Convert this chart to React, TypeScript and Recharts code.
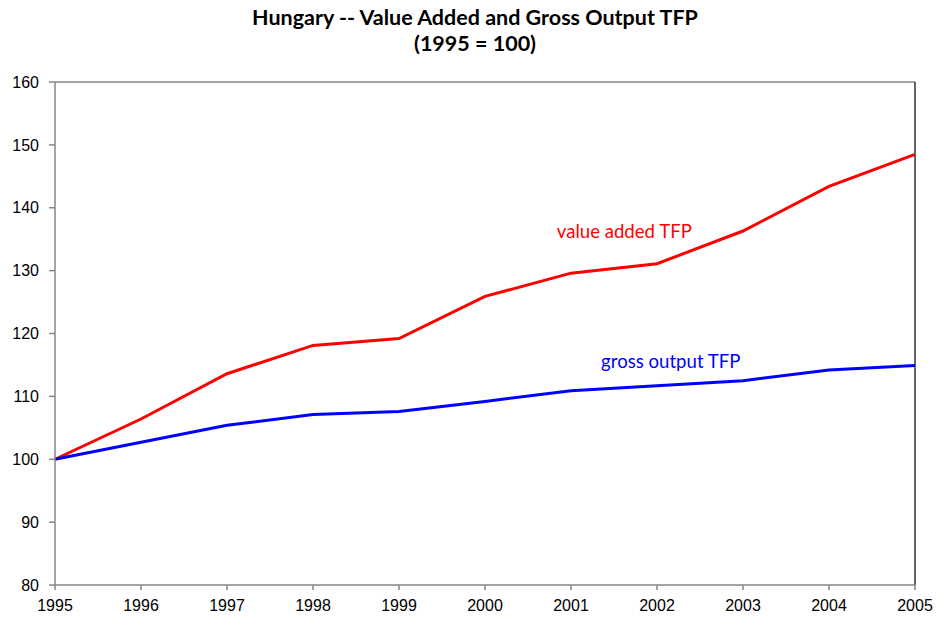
import React from "react";
import { LineChart, Line, XAxis, YAxis, ReferenceLine, ReferenceDot } from "recharts";

const years = [1995, 1996, 1997, 1998, 1999, 2000, 2001, 2002, 2003, 2004, 2005];
const valueAddedTFP = [100, 106.4, 113.6, 118.1, 119.2, 125.9, 129.6, 131.1, 136.3, 143.4, 148.5];
const grossOutputTFP = [100, 102.7, 105.4, 107.1, 107.6, 109.2, 110.9, 111.7, 112.5, 114.2, 114.9];
const yTicks = [80, 90, 100, 110, 120, 130, 140, 150, 160];

const titleLine1 = "Hungary -- Value Added and Gross Output TFP";
const titleLine2 = "(1995 = 100)";
const vaLabel = "value added TFP";
const goLabel = "gross output TFP";

const data = years.map((y, i) => ({ year: y, va: valueAddedTFP[i], go: grossOutputTFP[i] }));

const axisGrey = "#868686";
const tickStyle = { fontFamily: "'Liberation Sans', Arial, sans-serif", fontSize: 16, fill: "#000" };

export default function App() {
  return (
    <div style={{ position: "absolute", left: 0, top: 0, width: 940, height: 619, background: "#fff" }}>
      <svg width={940} height={60} style={{ position: "absolute", left: 0, top: 0 }}>
        <text x={475} y={25} textAnchor="middle" fontFamily="Lato, 'Open Sans', sans-serif" fontWeight={700} fontSize={21.5} fill="#000">
          {titleLine1}
        </text>
        <text x={475} y={51} textAnchor="middle" fontFamily="Lato, 'Open Sans', sans-serif" fontWeight={700} fontSize={21.5} fill="#000">
          {titleLine2}
        </text>
      </svg>
      <div style={{ position: "absolute", left: 0, top: 0 }}>
        <LineChart width={940} height={619} data={data} margin={{ top: 82, right: 25, bottom: 4, left: 8 }}>
          <XAxis
            dataKey="year"
            type="number"
            domain={[1995, 2005]}
            ticks={years}
            interval={0}
            tick={tickStyle}
            tickSize={5}
            tickMargin={10}
            height={30}
            stroke={axisGrey}
            strokeWidth={1.5}
            allowDecimals={false}
          />
          <YAxis
            type="number"
            domain={[80, 160]}
            ticks={yTicks}
            interval={0}
            tick={tickStyle}
            tickSize={6}
            tickMargin={10}
            width={47}
            stroke={axisGrey}
            strokeWidth={1.5}
          />
          <ReferenceLine y={160} stroke={axisGrey} strokeWidth={1.5} />
          <ReferenceLine x={2005} stroke="#000" strokeWidth={1.2} />
          <Line type="linear" dataKey="va" stroke="#FF0000" strokeWidth={3} dot={false} isAnimationActive={false} />
          <Line type="linear" dataKey="go" stroke="#0000FF" strokeWidth={3} dot={false} isAnimationActive={false} />
          <ReferenceDot
            x={2001.62}
            y={136.3}
            r={0}
            fill="none"
            stroke="none"
            label={{ value: vaLabel, position: "center", fill: "#FF0000", fontSize: 18.6, fontFamily: "Lato, 'Open Sans', sans-serif" }}
          />
          <ReferenceDot
            x={2002.16}
            y={115.5}
            r={0}
            fill="none"
            stroke="none"
            label={{ value: goLabel, position: "center", fill: "#0000FF", fontSize: 18.6, fontFamily: "Lato, 'Open Sans', sans-serif" }}
          />
        </LineChart>
      </div>
    </div>
  );
}
